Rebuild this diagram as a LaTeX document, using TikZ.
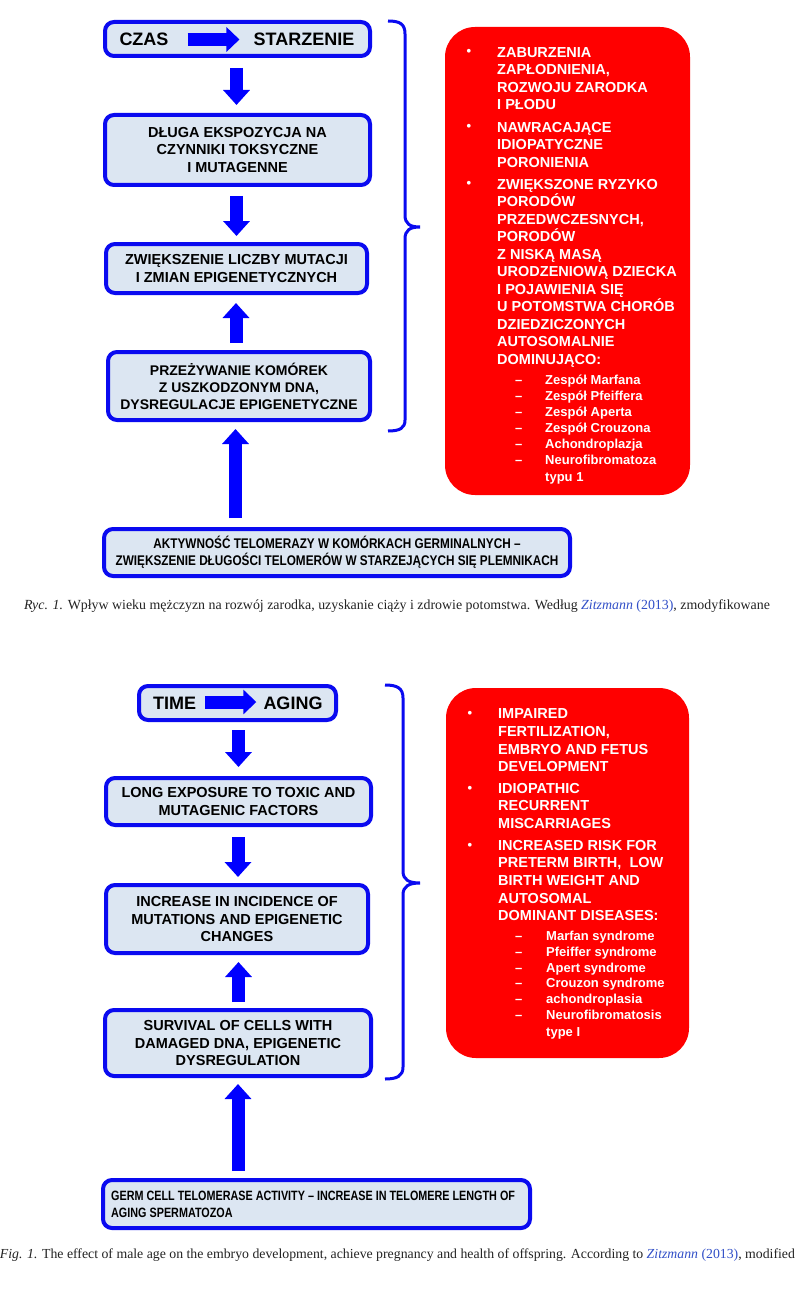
\documentclass[tikz,border=0pt]{standalone}
\usepackage{fontspec}
\usepackage{graphicx}
\usetikzlibrary{arrows.meta,calc}
\newfontfamily\af{Liberation Sans}
\newfontfamily\afn[FakeStretch=0.8]{Liberation Sans}
\newfontfamily\afp[FakeStretch=0.84]{Liberation Sans}
\newfontfamily\cf{Liberation Serif}
\definecolor{bblue}{RGB}{10,10,240}
\definecolor{ablue}{RGB}{0,0,255}
\definecolor{bfill}{RGB}{220,230,242}
\definecolor{rred}{RGB}{255,0,0}
\definecolor{capblue}{RGB}{50,80,200}
\definecolor{captext}{RGB}{35,35,35}
\begin{document}
\begin{tikzpicture}[x=1pt,y=-1pt,
 box/.style={draw=bblue, line width=4pt, fill=bfill, rounded corners=9pt, inner sep=0pt, align=center, font=\af\bfseries\fontsize{14.5}{17.5}\selectfont},
 nbox/.style={box, font=\afn\bfseries\fontsize{13.5}{17}\selectfont},
 redbox/.style={fill=rred, rounded corners=30pt, inner sep=0pt},
 big/.style={inner sep=0pt, font=\af\bfseries\fontsize{18}{20}\selectfont},
 rtxt/.style={anchor=base west, inner sep=0pt, text=white, font=\af\bfseries\fontsize{14.5}{17.5}\selectfont},
 rsub/.style={anchor=base west, inner sep=0pt, text=white, font=\af\bfseries\fontsize{13}{16}\selectfont},
 rbul/.style={anchor=base, inner sep=0pt, text=white, font=\af\bfseries\fontsize{13}{14}\selectfont},
 blk/.style={draw=ablue, line width=13pt, -{Triangle[width=26pt,length=15pt]}},
 inarr/.style={draw=ablue, line width=13pt, -{Triangle[width=24pt,length=13pt]}},
 brace/.style={draw=bblue, line width=3pt},
 captxt/.style={inner sep=0pt, text=captext, font=\cf}]
\useasboundingbox (0,0) rectangle (800,1292);
\fill[white] (0,0) rectangle (800,1292);

% ===== Polish diagram =====
\node[box, minimum width=265pt, minimum height=34pt] (p1) at (237.5,39) {};
\node[big] (czas) at (144,39) {CZAS};
\node[big] (starz) at (304,39) {STARZENIE};
\draw[inarr] ($(czas.east)+(19,0.5)$) -- ($(starz.west)+(-14,0.5)$);
\node[box, minimum width=265pt, minimum height=70pt] (p2) at (237.5,150) {DŁUGA EKSPOZYCJA NA\\CZYNNIKI TOKSYCZNE\\I MUTAGENNE};
\node[box, minimum width=261pt, minimum height=49pt] (p3) at (236.5,268.5) {ZWIĘKSZENIE LICZBY MUTACJI\\I ZMIAN EPIGENETYCZNYCH};
\node[box, minimum width=262pt, minimum height=68pt, font=\af\bfseries\fontsize{14}{17}\selectfont] (p4) at (239,386) {PRZEŻYWANIE KOMÓREK\\Z USZKODZONYM DNA,\\DYSREGULACJE EPIGENETYCZNE};
\node[box, minimum width=466pt, minimum height=47pt, font=\afp\bfseries\fontsize{14}{17}\selectfont] (p5) at (337,552.5) {AKTYWNOŚĆ TELOMERAZY W KOMÓRKACH GERMINALNYCH –\\ZWIĘKSZENIE DŁUGOŚCI TELOMERÓW W STARZEJĄCYCH SIĘ PLEMNIKACH};

\draw[blk] ($(p1.south)+(-1,10)$) -- ($(p2.north)+(-1,-8)$);
\draw[blk] ($(p2.south)+(-1,9)$) -- ($(p3.north)+(0,-6)$);
\draw[blk] ($(p4.north)+(-3,-7)$) -- ($(p3.south)+(-0.5,8)$);
\draw[blk] ($(p5.north -| p4.south)+(-3.5,-9)$) -- ($(p4.south)+(-3.5,7)$);

\draw[brace] (388,21) .. controls (400,21) and (405,24) .. (405,34) -- (405,215)
  .. controls (405,224) and (410,227) .. (420,227)
  .. controls (410,227) and (405,230) .. (405,239) -- (405,420)
  .. controls (405,428) and (400,431) .. (388,431);

\node[redbox, minimum width=245pt, minimum height=468pt] (pr) at (567.5,261) {};
\foreach \yy [count=\i] in {52,127,184} \node[rbul] (pb\i) at (469,\yy+4) {•};
\foreach \yy/\lbl [count=\i] in {52/{ZABURZENIA}, 69.5/{ZAPŁODNIENIA,}, 87/{ROZWOJU ZARODKA}, 104.5/{I PŁODU},
  127/{NAWRACAJĄCE}, 144.5/{IDIOPATYCZNE}, 162/{PORONIENIA},
  184/{ZWIĘKSZONE RYZYKO}, 201.5/{PORODÓW}, 219/{PRZEDWCZESNYCH,}, 236.5/{PORODÓW}, 254/{Z NISKĄ MASĄ},
  271.5/{URODZENIOWĄ DZIECKA}, 289/{I POJAWIENIA SIĘ}, 306.5/{U POTOMSTWA CHORÓB}, 324/{DZIEDZICZONYCH},
  341.5/{AUTOSOMALNIE}, 359/{DOMINUJĄCO:}}
  \node[rtxt] (pt\i) at (497,\yy+5.2) {\lbl};
\foreach \yy [count=\i] in {380,396,412,428,444,460}
  \node[rsub] (pd\i) at (515,\yy+4.6) {–};
\foreach \yy/\lbl [count=\i] in {380/{Zespół Marfana}, 396/{Zespół Pfeiffera}, 412/{Zespół Aperta}, 428/{Zespół Crouzona}, 444/{Achondroplazja}, 460/{Neurofibromatoza}, 476.5/{typu 1}}
  \node[rsub] (ps\i) at (545,\yy+4.6) {\lbl};

\node[captxt] (pcap) at (397,606) {\resizebox{746pt}{!}{\textit{Ryc. 1.} Wpływ wieku mężczyzn na rozwój zarodka, uzyskanie ciąży i zdrowie potomstwa. Według \textcolor{capblue}{\textit{Zitzmann} (2013)}, zmodyfikowane}};

% ===== English diagram =====
\node[box, minimum width=197pt, minimum height=34pt] (e1) at (237.5,703) {};
\node[big] (time) at (174.5,703) {TIME};
\node[big] (aging) at (293,703) {AGING};
\draw[inarr] ($(time.east)+(9,-1)$) -- ($(aging.west)+(-7,-1)$);
\node[box, minimum width=265pt, minimum height=47pt] (e2) at (238.5,801.5) {LONG EXPOSURE TO TOXIC AND\\MUTAGENIC FACTORS};
\node[box, minimum width=262pt, minimum height=68pt] (e3) at (237,919) {INCREASE IN INCIDENCE OF\\MUTATIONS AND EPIGENETIC\\CHANGES};
\node[box, minimum width=266pt, minimum height=66pt] (e4) at (238,1043) {SURVIVAL OF CELLS WITH\\DAMAGED DNA, EPIGENETIC\\DYSREGULATION};
\node[nbox, minimum width=427pt, minimum height=48pt] (e5) at (316.5,1204) {};
\node[anchor=west, inner sep=0pt, align=left, font=\afn\bfseries\fontsize{13.5}{17}\selectfont] (e5t) at (111,1204.5) {GERM CELL TELOMERASE ACTIVITY – INCREASE IN TELOMERE LENGTH OF\\AGING SPERMATOZOA};

\draw[blk] ($(e1.south)+(1,8)$) -- ($(e2.north)+(0,-9)$);
\draw[blk] ($(e2.south)+(-0.5,10)$) -- ($(e3.north)+(1,-6)$);
\draw[blk] ($(e4.north)+(0.5,-6)$) -- ($(e3.south)+(1.5,7)$);
\draw[blk] ($(e5.north -| e4.south)+(0,-7)$) -- ($(e4.south)+(0,6)$);

\draw[brace] (385,685) .. controls (397,685) and (403,688) .. (403,698) -- (403,871)
  .. controls (403,880) and (409,883) .. (420,883)
  .. controls (409,883) and (403,886) .. (403,895) -- (403,1067)
  .. controls (403,1076) and (397,1079) .. (385,1079);

\node[redbox, minimum width=243pt, minimum height=370pt] (er) at (567.5,873) {};
\foreach \yy [count=\i] in {713,788,845} \node[rbul] (eb\i) at (470,\yy+4) {•};
\foreach \yy/\lbl [count=\i] in {713.5/{IMPAIRED}, 731.5/{FERTILIZATION,}, 749/{EMBRYO AND FETUS}, 766.5/{DEVELOPMENT},
  788/{IDIOPATHIC}, 805.5/{RECURRENT}, 823/{MISCARRIAGES},
  845/{INCREASED RISK FOR}, 862.5/{PRETERM BIRTH,\ \ LOW}, 880/{BIRTH WEIGHT AND}, 898/{AUTOSOMAL}, 915.5/{DOMINANT DISEASES:}}
  \node[rtxt] (et\i) at (498,\yy+5.2) {\lbl};
\foreach \yy [count=\i] in {936,952,967.5,983,999,1015}
  \node[rsub] (ed\i) at (515,\yy+4.6) {–};
\foreach \yy/\lbl [count=\i] in {936/{Marfan syndrome}, 952/{Pfeiffer syndrome}, 967.5/{Apert syndrome}, 983/{Crouzon syndrome}, 999/{achondroplasia}, 1015/{Neurofibromatosis}, 1031.5/{type I}}
  \node[rsub] (es\i) at (546,\yy+4.6) {\lbl};

\node[captxt] (ecap) at (397.5,1255) {\resizebox{795pt}{!}{\textit{Fig. 1.} The effect of male age on the embryo development, achieve pregnancy and health of offspring. According to \textcolor{capblue}{\textit{Zitzmann} (2013)}, modified}};
\end{tikzpicture}
\end{document}
